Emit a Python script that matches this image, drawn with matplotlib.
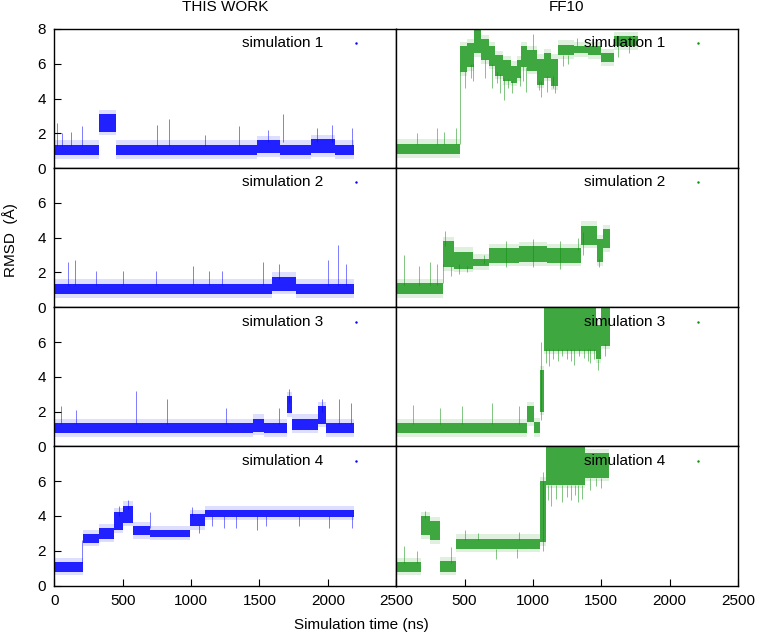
import matplotlib
matplotlib.use("Agg")
import matplotlib.pyplot as plt
import numpy as np

plt.rcParams["font.family"] = ["Liberation Sans", "DejaVu Sans"]
plt.rcParams["font.size"] = 11

BLUE = "#0000ff"
GREEN = "#0a8f0a"

# -- RMSD traces, read off the figure as bands (segment start times, low/high edge)
# plus the isolated excursions (time, from, to)

# THIS WORK
tw1_t = [0, 330, 450, 1480, 1650, 1880, 2050, 2190]
tw1_lo = [0.75, 2.1, 0.75, 0.85, 0.75, 0.85, 0.75]
tw1_hi = [1.35, 3.1, 1.35, 1.6, 1.35, 1.65, 1.35]
tw1_spk_t = [20, 60, 120, 205, 751, 836, 1100, 1352, 1560, 1669, 1923, 2032, 2178]
tw1_spk_lo = [1.3, 1.3, 1.3, 1.3, 1.3, 1.3, 1.3, 1.3, 1.5, 1.5, 1.5, 1.5, 1.3]
tw1_spk_hi = [2.6, 2.0, 2.1, 2.4, 2.5, 2.8, 1.9, 2.4, 2.2, 3.1, 2.3, 2.5, 2.3]

tw2_t = [0, 1590, 1770, 2190]
tw2_lo = [0.75, 0.95, 0.75]
tw2_hi = [1.35, 1.75, 1.35]
tw2_spk_t = [98, 154, 304, 499, 743, 1011, 1133, 1230, 1523, 1645, 1999, 2072, 2133]
tw2_spk_lo = [1.3, 1.3, 1.3, 1.3, 1.3, 1.3, 1.3, 1.3, 1.3, 1.6, 1.3, 1.3, 1.3]
tw2_spk_hi = [2.6, 2.7, 2.1, 2.1, 2.1, 2.4, 2.1, 2.1, 2.6, 2.5, 2.7, 3.6, 2.5]

tw3_t = [0, 1450, 1530, 1705, 1735, 1925, 1990, 2190]
tw3_lo = [0.75, 0.85, 0.75, 1.9, 0.95, 1.3, 0.75]
tw3_hi = [1.35, 1.6, 1.35, 2.9, 1.6, 2.3, 1.35]
tw3_spk_t = [48, 158, 597, 821, 1255, 1645, 1715, 1960, 2085, 2170]
tw3_spk_lo = [1.3, 1.3, 1.3, 1.3, 1.3, 1.3, 2.5, 2.0, 1.3, 1.3]
tw3_spk_hi = [2.3, 2.1, 3.2, 2.7, 2.2, 2.2, 3.3, 2.7, 2.7, 2.5]

tw4_t = [0, 210, 330, 440, 500, 575, 700, 990, 1100, 2195]
tw4_lo = [0.8, 2.45, 2.7, 3.2, 3.6, 2.9, 2.8, 3.4, 3.95]
tw4_hi = [1.35, 2.95, 3.3, 4.2, 4.6, 3.4, 3.2, 4.1, 4.35]
tw4_spk_t = [205, 470, 540, 700, 1010, 1060, 1150, 1240, 1330, 1480, 1550, 1790, 2010, 2180]
tw4_spk_lo = [1.3, 4.0, 4.4, 3.3, 4.0, 3.0, 3.4, 3.3, 3.3, 3.2, 3.4, 3.4, 3.3, 3.3]
tw4_spk_hi = [2.6, 4.6, 4.9, 4.2, 4.5, 3.5, 4.0, 4.0, 4.0, 4.0, 4.0, 4.0, 4.0, 4.0]

# FF10
ff1_t = [0, 470, 520, 570, 620, 680, 720, 780, 840, 880, 910, 960, 1030, 1080,
         1130, 1180, 1300, 1400, 1500, 1590, 1770]
ff1_lo = [0.8, 5.5, 5.8, 6.6, 6.2, 5.9, 5.3, 5.0, 4.9, 5.2, 5.8, 5.6, 4.8, 5.2,
          4.7, 6.5, 6.6, 6.5, 6.1, 7.0]
ff1_hi = [1.4, 7.0, 7.2, 8.0, 7.4, 7.0, 6.5, 6.2, 5.9, 6.2, 7.0, 6.8, 6.3, 6.6,
          6.3, 7.1, 7.0, 7.0, 6.6, 7.6]
ff1_spk_t = [150, 300, 350, 440, 470, 500, 545, 560, 650, 700, 740, 760, 790,
             820, 850, 905, 930, 950, 1000, 1045, 1060, 1100, 1145, 1160, 1220,
             1260, 1320, 1440, 1620, 1700]
ff1_spk_lo = [1.4, 1.4, 1.4, 1.4, 1.4, 4.6, 5.2, 5.0, 5.2, 4.6, 4.9, 4.3, 3.9,
              4.6, 4.3, 4.7, 5.0, 4.4, 6.8, 4.5, 4.1, 4.4, 4.6, 4.3, 5.9,
              6.0, 7.0, 7.0, 6.4, 6.6]
ff1_spk_hi = [2.0, 2.3, 2.1, 2.3, 5.6, 5.6, 6.0, 6.0, 6.3, 6.0, 5.5, 5.4, 5.1,
              5.1, 5.0, 5.3, 5.9, 5.8, 7.7, 5.0, 5.0, 5.3, 5.3, 4.8, 6.5,
              6.5, 7.5, 7.6, 7.0, 7.0]

ff2_t = [0, 340, 420, 560, 680, 900, 1100, 1350, 1470, 1510, 1560]
ff2_lo = [0.75, 2.3, 2.2, 2.35, 2.55, 2.6, 2.55, 3.6, 2.6, 3.4]
ff2_hi = [1.4, 3.8, 3.2, 2.8, 3.4, 3.5, 3.4, 4.7, 3.9, 4.5]
ff2_spk_t = [60, 170, 250, 300, 340, 355, 400, 460, 520, 640, 800, 1000, 1200,
             1330, 1365, 1480]
ff2_spk_lo = [1.3, 1.3, 1.3, 1.3, 1.4, 3.5, 1.8, 1.9, 2.0, 2.5, 2.3, 2.3, 2.2,
              3.3, 3.0, 2.3]
ff2_spk_hi = [3.0, 2.4, 2.6, 2.5, 2.5, 4.4, 2.4, 2.5, 2.4, 3.0, 3.8, 3.9, 3.8,
              4.0, 4.3, 2.8]

ff3_t = [0, 960, 1005, 1055, 1080, 1460, 1500, 1560]
ff3_lo = [0.75, 1.4, 0.75, 2.0, 5.5, 5.0, 5.8]
ff3_hi = [1.35, 2.3, 1.4, 4.4, 8.0, 7.0, 8.0]
ff3_spk_t = [120, 320, 480, 700, 900, 1060, 1095, 1120, 1150, 1180, 1215, 1250,
             1280, 1300, 1340, 1370, 1400, 1420, 1445, 1475, 1530]
ff3_spk_lo = [1.3, 1.3, 1.3, 1.3, 1.3, 1.5, 4.8, 4.6, 5.0, 4.9, 5.2, 5.0,
              4.9, 4.7, 5.2, 5.1, 4.9, 4.8, 5.0, 4.4, 5.2]
ff3_spk_hi = [2.4, 2.2, 2.3, 2.5, 2.3, 6.0, 5.6, 5.6, 5.6, 5.6, 5.6, 5.6,
              5.6, 5.6, 5.6, 5.6, 5.6, 5.6, 5.6, 5.0, 5.9]

ff4_t = [0, 185, 250, 324, 434, 1055, 1092, 1380, 1555]
ff4_lo = [0.8, 2.9, 2.6, 0.8, 2.1, 2.5, 5.8, 6.2]
ff4_hi = [1.35, 4.0, 3.7, 1.4, 2.7, 6.0, 8.0, 7.6]
ff4_spk_t = [60, 150, 210, 400, 500, 600, 730, 880, 900, 1070, 1110, 1130, 1170,
             1210, 1250, 1280, 1310, 1330, 1360, 1420, 1460, 1500]
ff4_spk_lo = [1.3, 1.3, 3.9, 1.3, 2.6, 2.6, 1.5, 1.6, 2.6, 2.0, 4.9, 4.6, 5.0,
              4.8, 5.1, 4.9, 5.2, 4.8, 5.0, 5.5, 5.7, 5.6]
ff4_spk_hi = [2.3, 2.0, 4.3, 2.2, 3.2, 3.0, 2.1, 2.1, 3.1, 6.5, 5.8, 5.8, 5.8,
              5.8, 5.8, 5.8, 5.8, 5.8, 5.8, 6.2, 6.2, 6.2]

runs = [
    [(tw1_t, tw1_lo, tw1_hi, tw1_spk_t, tw1_spk_lo, tw1_spk_hi),
     (ff1_t, ff1_lo, ff1_hi, ff1_spk_t, ff1_spk_lo, ff1_spk_hi)],
    [(tw2_t, tw2_lo, tw2_hi, tw2_spk_t, tw2_spk_lo, tw2_spk_hi),
     (ff2_t, ff2_lo, ff2_hi, ff2_spk_t, ff2_spk_lo, ff2_spk_hi)],
    [(tw3_t, tw3_lo, tw3_hi, tw3_spk_t, tw3_spk_lo, tw3_spk_hi),
     (ff3_t, ff3_lo, ff3_hi, ff3_spk_t, ff3_spk_lo, ff3_spk_hi)],
    [(tw4_t, tw4_lo, tw4_hi, tw4_spk_t, tw4_spk_lo, tw4_spk_hi),
     (ff4_t, ff4_lo, ff4_hi, ff4_spk_t, ff4_spk_lo, ff4_spk_hi)],
]
column_titles = ["THIS WORK", "FF10"]
sim_labels = ["simulation 1", "simulation 2", "simulation 3", "simulation 4"]
x_ticks = [0, 500, 1000, 1500, 2000, 2500]


def draw_trace(ax, trace, color, core_alpha):
    t, lo, hi, spk_t, spk_lo, spk_hi = trace
    lo_s = np.append(lo, lo[-1])
    hi_s = np.append(hi, hi[-1])
    # sparse outer scatter
    ax.fill_between(t, lo_s - 0.2, hi_s + 0.25, step="post",
                    color=color, alpha=0.13, lw=0)
    # dense core
    ax.fill_between(t, lo_s, hi_s, step="post",
                    color=color, alpha=core_alpha, lw=0)
    ax.vlines(spk_t, spk_lo, spk_hi, color=color, lw=0.6, alpha=0.6)


fig, axes = plt.subplots(
    4, 2, figsize=(7.57, 6.33), dpi=100,
    gridspec_kw=dict(left=0.0717, right=0.975, top=0.9542, bottom=0.075,
                     hspace=0, wspace=0),
)

for r in range(4):
    for c in range(2):
        ax = axes[r, c]
        color = BLUE if c == 0 else GREEN
        draw_trace(ax, runs[r][c], color, 0.85 if c == 0 else 0.75)
        ax.set_xlim(0, 2500)
        ax.set_ylim(0, 8)
        for s in ax.spines.values():
            s.set_linewidth(1.0)
        ax.tick_params(direction="in", length=5, width=0.8, pad=6,
                       labelsize=11)

        if c == 0:
            ax.set_yticks([0, 2, 4, 6, 8] if r == 0 else [0, 2, 4, 6])
        else:
            ax.set_yticks([])

        if r == 3:
            ax.set_xticks(x_ticks)
            if c == 0:
                ax.set_xticklabels([str(v) for v in x_ticks])
            else:
                ax.set_xticklabels([""] + [str(v) for v in x_ticks[1:]])
        else:
            ax.set_xticks([])

        ax.text(0.786, 0.897, sim_labels[r], transform=ax.transAxes,
                ha="right", va="center", fontsize=11)
        ax.plot([0.883], [0.897], transform=ax.transAxes, marker=".",
                markersize=1.5, color=color, ls="none")

fig.text(225.5 / 757, 1 - 7 / 633, column_titles[0], ha="center",
         va="center", fontsize=11)
fig.text(567 / 757, 1 - 7 / 633, column_titles[1], ha="center",
         va="center", fontsize=11)
fig.text(361 / 757, 1 - 625 / 633, "Simulation time (ns)", ha="center",
         va="center", fontsize=11)
fig.text(10 / 757, 1 - 240 / 633, "RMSD  (\u00c5)", rotation=90,
         ha="center", va="center", fontsize=11)

fig.savefig("out.png", dpi=100)
